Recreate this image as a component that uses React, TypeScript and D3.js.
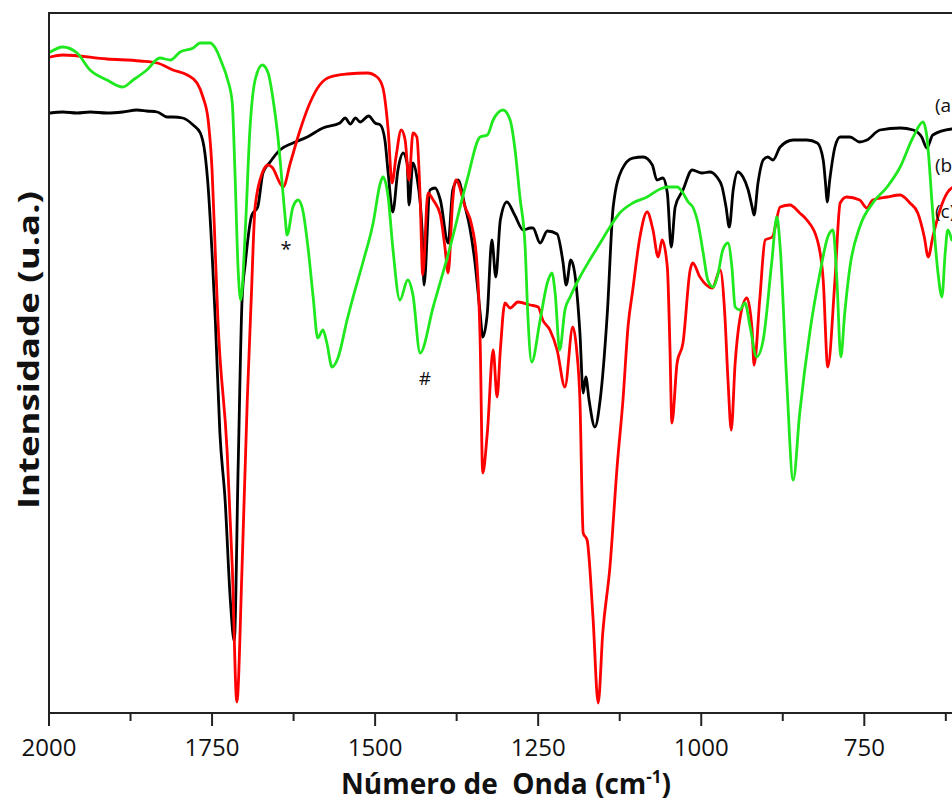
import React from 'react';
import * as d3 from 'd3';

// Spectrum (a) - black
const aWavenumber = [1998,1979,1957,1937,1911,1887,1865,1850,1834,1819,1810,1795,1779,1768,1761,1756,1750,1745,1738,1730,1722,1716,1710,1704,1699,1689,1680,1672,1661,1646,1626,1604,1580,1554,1546,1538,1530,1523,1510,1500,1492,1485,1480,1473,1465,1457,1451,1448,1442,1436,1428,1425,1416,1408,1400,1388,1381,1373,1362,1355,1347,1339,1335,1328,1321,1315,1308,1298,1286,1273,1262,1258,1247,1236,1221,1212,1207,1200,1194,1186,1181,1177,1172,1163,1155,1144,1135,1122,1105,1089,1075,1068,1059,1052,1046,1040,1028,1014,999,987,976,968,962,957,951,944,936,928,922,919,913,905,898,890,879,859,838,822,813,809,807,803,795,787,772,757,746,726,695,675,662,654,645,616,590];
const aIntensity = [600,601,600,601,600,601,603,602,601,596,596,595,588,580,560,526,460,393,280,213,113,72,246,413,450,498,506,540,551,563,570,576,585,590,595,589,595,591,597,590,588,573,540,501,543,560,550,508,550,536,483,428,523,525,513,470,523,533,506,486,451,400,376,400,473,436,493,511,498,483,485,485,470,482,479,451,428,453,440,380,320,336,313,286,313,400,506,543,555,556,548,533,535,520,466,506,523,543,540,541,536,526,506,486,523,541,536,523,506,498,530,553,556,553,566,573,573,570,553,526,511,533,566,576,576,571,573,583,585,583,576,565,578,584,585];

// Spectrum (b) - red
const bWavenumber = [1998,1979,1911,1860,1834,1810,1788,1773,1764,1756,1750,1745,1741,1727,1719,1712,1704,1696,1690,1684,1673,1664,1657,1646,1641,1630,1615,1600,1585,1569,1543,1512,1497,1488,1480,1474,1468,1460,1454,1448,1442,1436,1431,1427,1419,1411,1400,1393,1388,1381,1376,1362,1352,1344,1339,1335,1328,1319,1313,1308,1301,1293,1281,1262,1250,1243,1232,1221,1209,1197,1191,1186,1181,1175,1166,1158,1151,1140,1129,1120,1112,1105,1094,1083,1074,1066,1060,1052,1048,1045,1037,1028,1017,1013,1002,983,971,964,959,954,948,941,930,922,919,910,902,891,879,864,849,838,822,813,806,795,787,777,757,746,737,715,695,680,668,658,652,645,634,623,616,590];
const bIntensity = [656,658,654,652,650,643,638,630,616,593,543,460,393,263,146,11,146,313,413,506,540,548,545,530,526,550,583,610,628,636,639,640,636,625,583,530,556,583,573,533,580,576,516,438,520,513,498,466,440,513,533,506,488,451,373,240,280,363,316,363,410,405,411,408,406,393,383,363,326,386,363,313,180,173,96,10,80,146,246,313,388,423,476,501,483,456,473,446,366,290,350,370,443,450,436,425,443,400,333,283,350,393,415,383,348,416,473,476,506,508,500,493,473,433,346,433,510,516,513,505,513,516,518,510,500,476,456,476,503,520,525,530];

// Spectrum (c) - green
const cWavenumber = [1998,1979,1957,1937,1911,1887,1871,1850,1830,1814,1799,1779,1768,1753,1745,1735,1726,1719,1715,1710,1706,1699,1692,1684,1673,1664,1657,1649,1643,1638,1635,1626,1618,1611,1603,1595,1588,1580,1574,1566,1557,1543,1535,1519,1503,1492,1488,1480,1473,1462,1450,1442,1431,1411,1385,1359,1339,1328,1319,1304,1293,1286,1278,1270,1266,1260,1247,1236,1229,1224,1217,1209,1201,1186,1171,1155,1140,1125,1105,1083,1063,1052,1037,1028,1020,1013,1005,997,990,982,974,967,959,953,948,941,933,925,915,905,892,884,879,869,859,849,833,818,806,798,792,786,780,772,757,737,715,695,675,660,654,645,637,631,626,622,616];
const cIntensity = [661,666,660,643,633,626,633,643,655,653,661,665,670,670,665,650,633,610,543,443,413,483,583,633,648,640,616,576,533,496,478,506,513,503,466,416,375,383,370,346,355,393,413,450,490,530,536,516,466,413,433,418,360,406,466,533,576,578,593,603,593,566,516,466,400,351,393,430,440,420,363,403,416,436,453,470,486,500,510,516,524,526,526,520,511,506,490,460,433,426,440,463,470,446,406,403,410,386,356,373,450,496,466,333,233,300,383,440,476,483,433,356,400,446,486,510,526,546,576,591,576,500,440,416,460,483,473];

const xMajorTicks = [2000, 1750, 1500, 1250, 1000, 750];
const xMinorTicks = [1875, 1625, 1375, 1125, 875, 625];
const curveLabels = ['(a)', '(b)', '(c)'];

const W = 952;
const H = 803;

export default function App() {
  const x = d3.scaleLinear().domain([2000, 750]).range([49, 864.3]);
  const y = d3.scaleLinear().domain([0, 700]).range([713, 13]);

  const mk = (ws: number[], is: number[]) => {
    const pts = ws.map((w, i) => [w, is[i]] as [number, number]);
    return d3
      .line<[number, number]>()
      .x((d) => x(d[0]))
      .y((d) => y(d[1]))
      .curve(d3.curveMonotoneX)(pts) as string;
  };

  const series = [
    { name: 'a', ws: aWavenumber, is: aIntensity, color: '#000000' },
    { name: 'b', ws: bWavenumber, is: bIntensity, color: '#ff0000' },
    { name: 'c', ws: cWavenumber, is: cIntensity, color: '#1fe81f' },
  ];

  const font = "'Open Sans', 'Noto Sans', sans-serif";
  const axisColor = '#222';

  return (
    <svg
      width={W}
      height={H}
      style={{ position: 'absolute', left: 0, top: 0, background: '#fff' }}
      fontFamily={font}
    >
      <rect x={0} y={0} width={W} height={H} fill="#fff" />
      <defs>
        <clipPath id="plotClip">
          <rect x={49} y={13} width={W} height={700} />
        </clipPath>
      </defs>
      <g clipPath="url(#plotClip)">
        {series.map((s) => (
          <path
            key={s.name}
            d={mk(s.ws, s.is)}
            fill="none"
            stroke={s.color}
            strokeWidth={2.8}
            strokeLinejoin="round"
            strokeLinecap="round"
          />
        ))}
      </g>
      {/* frame */}
      <line x1={49} y1={13} x2={W} y2={13} stroke={axisColor} strokeWidth={2} />
      <line x1={49} y1={12} x2={49} y2={714} stroke={axisColor} strokeWidth={2} />
      <line x1={48} y1={713} x2={W} y2={713} stroke={axisColor} strokeWidth={2} />
      {xMajorTicks.map((t) => (
        <g key={'M' + t}>
          <line x1={x(t)} x2={x(t)} y1={713} y2={726} stroke={axisColor} strokeWidth={2} />
          <text x={x(t)} y={756} textAnchor="middle" fontSize={24} fill="#111">
            {t}
          </text>
        </g>
      ))}
      {xMinorTicks.map((t) => (
        <line key={'m' + t} x1={x(t)} x2={x(t)} y1={713} y2={721} stroke={axisColor} strokeWidth={2} />
      ))}
      {/* axis titles */}
      <text x={506} y={794} textAnchor="middle" fontSize={28} fontWeight="bold" fill="#111" xmlSpace="preserve">
        Número de  Onda (cm<tspan dy={-11} fontSize={17}>-1</tspan><tspan dy={11}>)</tspan>
      </text>
      <text
        transform="translate(39,350) rotate(-90)"
        textAnchor="middle"
        fontSize={28}
        fontWeight="bold"
        fill="#111"
        textLength={318}
        lengthAdjust="spacingAndGlyphs"
      >
        Intensidade (u.a.)
      </text>
      {/* annotations */}
      <text x={935} y={112} fontSize={19} fill="#111">{curveLabels[0]}</text>
      <text x={935} y={172} fontSize={19} fill="#111">{curveLabels[1]}</text>
      <text x={935} y={218} fontSize={19} fill="#111">{curveLabels[2]}</text>
      <text x={286} y={256} textAnchor="middle" fontSize={20} fill="#111">*</text>
      <text x={425} y={385} textAnchor="middle" fontSize={19} fill="#111">#</text>
    </svg>
  );
}
